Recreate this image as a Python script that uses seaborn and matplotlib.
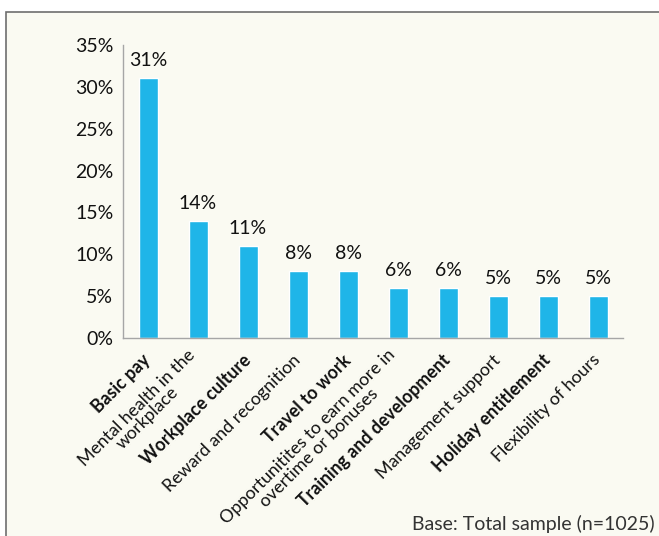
import numpy as np
import pandas as pd
import seaborn as sns
import matplotlib.pyplot as plt
from matplotlib.patches import Rectangle
from matplotlib.ticker import FixedLocator, PercentFormatter

# dati
categorie = [
    "Basic pay",
    "Mental health in the\nworkplace",
    "Workplace culture",
    "Reward and recognition",
    "Travel to work",
    "Opportunitites to earn more in\novertime or bonuses",
    "Training and development",
    "Management support",
    "Holiday entitlement",
    "Flexibility of hours",
]
valori = [31, 14, 11, 8, 8, 6, 6, 5, 5, 5]
grassetto = [True, False, True, False, True, False, True, False, True, False]
nota = "Base: Total sample (n=1025)"

sns.set_style("white")
plt.rcParams["font.family"] = ["Lato", "DejaVu Sans"]

df = pd.DataFrame({"categoria": categorie, "valore": valori})

fig = plt.figure(figsize=(6.59, 5.36), dpi=100)
fig.patch.set_facecolor("white")
# cornice del grafico
cornice = Rectangle((6 / 659, -0.1), 1.1, 1 - 12 / 536 + 0.1,
                    transform=fig.transFigure, facecolor="#FAFAF2",
                    edgecolor="#6E6E6E", linewidth=1.2, zorder=-10)
fig.add_artist(cornice)

ax = fig.add_axes([123 / 659, 1 - 338 / 536, 500 / 659, 293 / 536])
ax.set_facecolor("none")
ax.set_zorder(5)
sns.barplot(data=df, x="categoria", y="valore", color="#1FB5E8",
            width=0.38, saturation=1, ax=ax)

ax.set_xlim(-0.5, len(categorie) - 0.5)
ax.set_ylim(0, 35)
ax.set_yticks(np.arange(0, 36, 5))
ax.yaxis.set_major_formatter(PercentFormatter(decimals=0))
ax.set_xlabel("")
ax.set_ylabel("")

for s in ["top", "right"]:
    ax.spines[s].set_visible(False)
for s in ["left", "bottom"]:
    ax.spines[s].set_color("#A6A6A6")
    ax.spines[s].set_linewidth(1.0)

ax.tick_params(axis="y", length=4, color="#A6A6A6", labelsize=14, pad=3,
               labelcolor="#111111")
ax.tick_params(axis="x", which="major", length=0, pad=14)
ax.xaxis.set_minor_locator(FixedLocator(np.arange(-0.5, len(categorie), 1)))
ax.tick_params(axis="x", which="minor", length=5, color="#A6A6A6")

ax.set_xticks(range(len(categorie)))
ax.set_xticklabels(categorie)
for lab, b in zip(ax.get_xticklabels(), grassetto):
    lab.set_rotation(45)
    lab.set_rotation_mode("anchor")
    lab.set_ha("right")
    lab.set_va("center")
    lab.set_multialignment("center")
    lab.set_fontsize(12.8)
    lab.set_linespacing(0.95)
    lab.set_color("#111111")
    if b:
        lab.set_fontweight("bold")

for i, v in enumerate(valori):
    ax.text(i, v + 1.1, f"{v}%", ha="center", va="bottom", fontsize=14,
            color="#111111")

fig.text(655 / 659, 3 / 536, nota, ha="right", va="bottom", fontsize=14,
         color="#333333")

fig.savefig("out.png", dpi=100)
plt.close(fig)
